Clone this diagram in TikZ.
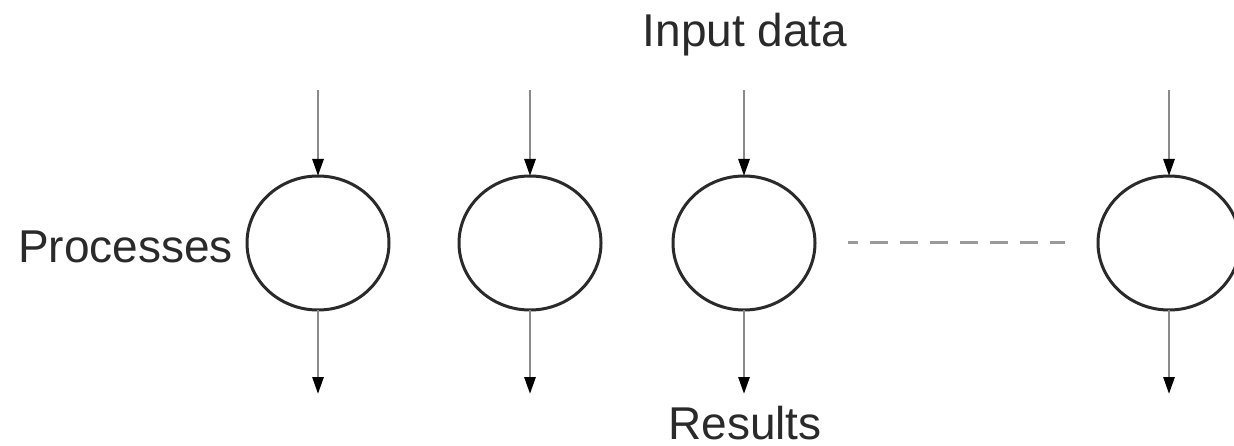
\documentclass[tikz,border=0pt]{standalone}
\usepackage{fontspec}
\setmainfont{Liberation Sans}
\usetikzlibrary{arrows.meta,shapes.geometric}
\definecolor{ink}{HTML}{2A2A2A}
\definecolor{shaft}{HTML}{8A8A8A}
\definecolor{dashc}{HTML}{9A9A9A}
\begin{document}
\begin{tikzpicture}[x=1pt,y=-1pt,
  lbl/.style={inner sep=0pt,anchor=base,text=ink,font=\fontsize{46}{55}\selectfont},
  flow/.style={draw=shaft,line width=2.8pt,-{Triangle[length=17pt,width=11pt,black]}},
  proc/.style={ellipse,draw=ink,line width=3pt,minimum width=142pt,minimum height=134pt,inner sep=0pt,outer sep=0pt}]
\useasboundingbox (0,0) rectangle (1234,446);
\fill[white] (0,0) rectangle (1234,446);
\foreach \n/\x in {1/318,2/530,3/744,4/1169}{
  \node[proc] (p\n) at (\x,243) {};
  \coordinate (in\n) at (\x,90);
  \coordinate (out\n) at (\x,394);
}
\foreach \n in {1,2,3,4}{
  \draw[flow] (in\n) -- (p\n.north);
  \draw[flow] (p\n.south) -- (out\n);
}
\draw[dashc,line width=3pt,dash pattern=on 18pt off 12pt,dash phase=8pt,shorten <=33pt,shorten >=33pt] (p3.east) -- (p4.west);
\node[lbl] (inp) at (745,47) {Input data};
\node[lbl] (res) at (745,439) {Results};
\node[lbl,anchor=base west] (procs) at (18,263) {Processes};
\end{tikzpicture}
\end{document}
